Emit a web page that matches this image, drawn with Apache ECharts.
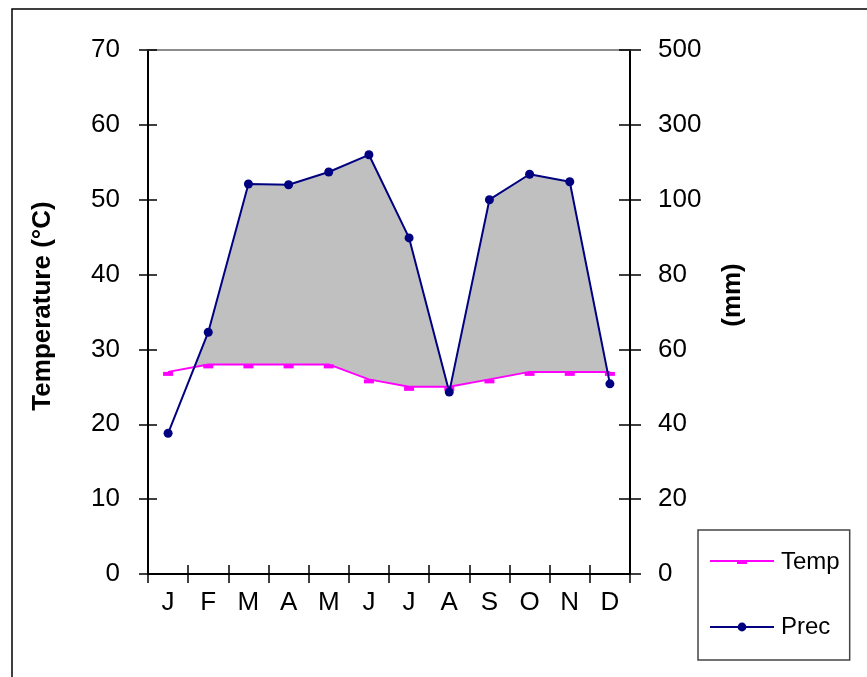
<!DOCTYPE html>
<html>
<head>
<meta charset="utf-8">
<script src="https://cdn.jsdelivr.net/npm/echarts@6/dist/echarts.min.js"></script>
<style>
html,body{margin:0;padding:0;background:#fff;}
#chart{width:867px;height:677px;}
</style>
</head>
<body>
<div id="chart"></div>
<script>
// ---- data ----
const months = ['J','F','M','A','M','J','J','A','S','O','N','D'];
const temperature = [27, 28, 28, 28, 28, 26, 25, 25, 26, 27, 27, 27];          // °C
const precipitation = [37.6, 64.6, 142, 140, 174, 220, 89.8, 48.6, 100, 168, 148, 50.8]; // mm
const tempTicks = [0, 10, 20, 30, 40, 50, 60, 70];
const precTickLabels = ['0', '20', '40', '60', '80', '100', '300', '500'];

// Walter-Lieth style right axis: 2 mm per °C up to 100 mm, then 20 mm per °C
function precToAxis(mm) {
  return mm <= 100 ? mm / 2 : 50 + (mm - 100) / 20;
}
const precAxisValues = precipitation.map(precToAxis);

const FONT = 'Liberation Sans, Arial, sans-serif';
const axisLineStyle = { color: '#000', width: 2 };
const tickLineStyle = { color: '#000', width: 1.5 };

function maskSeries(name, dx, z) {
  return { name: name, type: 'line', data: temperature, z: z,
    showSymbol: false, symbol: 'none', silent: true,
    lineStyle: { width: 0, opacity: 0 },
    areaStyle: { color: '#FFFFFF', opacity: 1, shadowColor: '#FFFFFF', shadowBlur: 0, shadowOffsetX: dx } };
}

const chart = echarts.init(document.getElementById('chart'), null, { renderer: 'canvas' });
chart.setOption({
  animation: false,
  backgroundColor: '#fff',
  grid: { left: 148, right: 237, top: 50, bottom: 103, containLabel: false },
  graphic: [
    { type: 'polyline', shape: { points: [[12, 700], [12, 9], [900, 9]] },
      style: { stroke: '#000', lineWidth: 1.5, fill: null }, silent: true }
  ],
  legend: {
    data: [
      { name: 'Temp', icon: 'path://M0,0 L64,0 L64,2 L0,2 Z M27,2 L37,2 L37,4 L27,4 Z' },
      { name: 'Prec' }
    ],
    orient: 'vertical',
    left: 698, top: 530,
    padding: [20, 10, 21, 11],
    itemWidth: 64, itemHeight: 11, itemGap: 41,
    borderColor: '#444', borderWidth: 1.5,
    textStyle: { fontFamily: FONT, fontSize: 24, color: '#000', padding: [0, 0, 0, 2] },
    selectedMode: false
  },
  xAxis: [
    { type: 'category', data: months, position: 'bottom', boundaryGap: true, z: 10,
      axisLine: { show: true, onZero: false, lineStyle: axisLineStyle },
      axisTick: { show: true, inside: false, length: 9, lineStyle: tickLineStyle },
      axisLabel: { margin: 16, fontFamily: FONT, fontSize: 26, color: '#000' },
      splitLine: { show: false } },
    { type: 'category', data: months, position: 'bottom', boundaryGap: true, z: 10,
      axisLine: { show: false, onZero: false },
      axisTick: { show: true, inside: true, length: 9, lineStyle: tickLineStyle },
      axisLabel: { show: false }, splitLine: { show: false } },
    { type: 'category', data: months, position: 'top', boundaryGap: true, z: 10,
      axisLine: { show: true, onZero: false, lineStyle: { color: '#8c8c8c', width: 2 } },
      axisTick: { show: false }, axisLabel: { show: false }, splitLine: { show: false } }
  ],
  yAxis: [
    { type: 'value', position: 'left', min: tempTicks[0], max: tempTicks[tempTicks.length - 1], interval: 10, z: 10,
      axisLine: { show: true, onZero: false, lineStyle: axisLineStyle },
      axisTick: { show: true, inside: false, length: 9, lineStyle: tickLineStyle },
      axisLabel: { margin: 28, fontFamily: FONT, fontSize: 26, color: '#000' },
      splitLine: { show: false },
      name: 'Temperature (°C)', nameLocation: 'middle', nameRotate: 90, nameGap: 92,
      nameTextStyle: { fontFamily: FONT, fontSize: 26, fontWeight: 'bold', color: '#000', padding: [0, 0, 0, 12] } },
    { type: 'value', position: 'right', min: 0, max: 70, interval: 10, z: 10,
      axisLine: { show: true, onZero: false, lineStyle: axisLineStyle },
      axisTick: { show: true, inside: false, length: 11, lineStyle: tickLineStyle },
      axisLabel: { margin: 28, fontFamily: FONT, fontSize: 26, color: '#000',
        formatter: function (v) { return precTickLabels[Math.round(v / 10)]; } },
      splitLine: { show: false },
      name: '(mm)', nameLocation: 'middle', nameRotate: 90, nameGap: 90,
      nameTextStyle: { fontFamily: FONT, fontSize: 26, fontWeight: 'bold', color: '#000', padding: [0, 0, 0, 34] } },
    { type: 'value', position: 'left', min: 0, max: 70, interval: 10, z: 10,
      axisLine: { show: false, onZero: false },
      axisTick: { show: true, inside: true, length: 9, lineStyle: tickLineStyle },
      axisLabel: { show: false }, splitLine: { show: false } },
    { type: 'value', position: 'right', min: 0, max: 70, interval: 10, z: 10,
      axisLine: { show: false, onZero: false },
      axisTick: { show: true, inside: true, length: 11, lineStyle: tickLineStyle },
      axisLabel: { show: false }, splitLine: { show: false } }
  ],
  series: [
    { name: 'precArea', type: 'line', data: precAxisValues, z: 1,
      showSymbol: false, symbol: 'none', silent: true,
      lineStyle: { width: 0, opacity: 0 },
      areaStyle: { color: '#C0C0C0', opacity: 1 } },
    maskSeries('tempMaskL', -1.5, 2),
    maskSeries('tempMaskR', 1.5, 2),
    { name: 'Temp', type: 'line', data: temperature, z: 3, color: '#FF00FF',
      symbol: 'rect', symbolSize: [10, 4], symbolOffset: [0, 2],
      lineStyle: { color: '#FF00FF', width: 2 },
      itemStyle: { color: '#FF00FF' } },
    { name: 'Prec', type: 'line', data: precAxisValues, z: 4, color: '#000080',
      symbol: 'circle', symbolSize: 9,
      lineStyle: { color: '#000080', width: 2 },
      itemStyle: { color: '#000080' } }
  ]
});
</script>
</body>
</html>
